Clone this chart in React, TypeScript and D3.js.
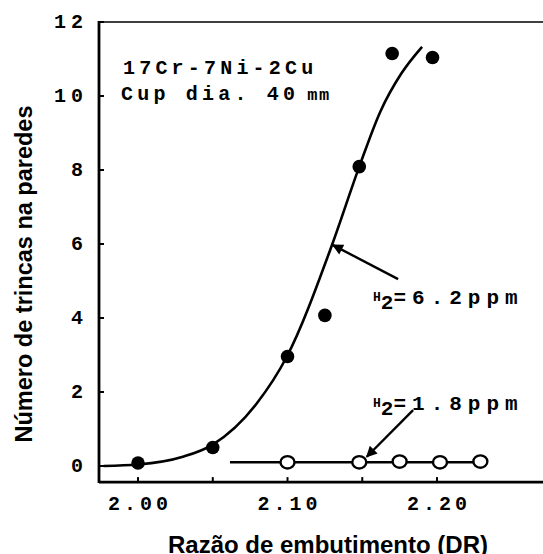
import React from 'react';
import * as d3 from 'd3';

const W = 543;
const H = 554;

// fitted curve for H2 = 6.2 ppm
const fitX = [1.977, 2.0, 2.03, 2.05, 2.079, 2.0996, 2.13, 2.148, 2.162, 2.176, 2.19];
const fitY = [0, 0.04, 0.25, 0.58, 1.67, 2.96, 6.0, 8.09, 9.57, 10.6, 11.33];

// measured points H2 = 6.2 ppm (filled)
const h62X = [2.0, 2.05, 2.1, 2.125, 2.148, 2.17, 2.197];
const h62Y = [0.08, 0.5, 2.96, 4.07, 8.09, 11.15, 11.04];

// measured points H2 = 1.8 ppm (open)
const h18X = [2.1, 2.148, 2.175, 2.202, 2.229];
const h18Y = [0.1, 0.1, 0.12, 0.1, 0.12];
const h18LineX = [2.0615, 2.229];

const yTicks = [0, 2, 4, 6, 8, 10, 12];
const xTickMarks = [2.0, 2.05, 2.1, 2.15, 2.2];
const xTickLabelValues = [2.0, 2.1, 2.2];
const xTickLabels = ['2.00', '2.10', '2.20'];

const yTitle = 'Número de trincas na paredes';
const xTitle = 'Razão de embutimento (DR)';
const note1 = '17Cr-7Ni-2Cu';
const note2a = 'Cup dia. 40';
const note2b = 'mm';
const label62 = '=6.2ppm';
const label18 = '=1.8ppm';

const MONO = "'Liberation Mono', 'DejaVu Sans Mono', monospace";
const SANS = "'Liberation Sans', Arial, sans-serif";

export default function App() {
  const x = d3.scaleLinear().domain([1.9739, 2.2709]).range([99, 543]);
  const y = d3.scaleLinear().domain([0, 12]).range([466, 22]);
  const yAxisBottom = y(-0.435);

  const fitPts: [number, number][] = fitX.map((v, i) => [v, fitY[i]]);
  const line = d3
    .line<[number, number]>()
    .x((d) => x(d[0]))
    .y((d) => y(d[1]))
    .curve(d3.curveMonotoneX);

  const arrow62 = { x1: x(2.174), y1: y(5.05), x2: x(2.1304), y2: y(5.97) };
  const arrow18 = { x1: x(2.184), y1: y(1.51), x2: x(2.153), y2: y(0.25) };

  const monoStyle = { fontFamily: MONO, fontWeight: 'bold' as const };

  return (
    <svg
      width={W}
      height={H}
      style={{ position: 'absolute', left: 0, top: 0, background: '#fff' }}
    >
      <defs>
        <marker
          id="ah"
          viewBox="0 0 10 10"
          refX="9"
          refY="5"
          markerUnits="userSpaceOnUse"
          markerWidth="17"
          markerHeight="11"
          orient="auto"
        >
          <path d="M0,0 L10,5 L0,10 z" fill="#000" />
        </marker>
      </defs>

      {/* frame */}
      <line x1={x.range()[0]} x2={W} y1={y(12)} y2={y(12)} stroke="#000" strokeWidth={1.6} />
      <line x1={x.range()[0]} x2={x.range()[0]} y1={y(12) - 1} y2={yAxisBottom + 1} stroke="#000" strokeWidth={2.8} />
      <line x1={x.range()[0]} x2={W} y1={yAxisBottom} y2={yAxisBottom} stroke="#000" strokeWidth={2.6} />

      {/* y ticks */}
      {yTicks.map((t) => (
        <g key={'yt' + t}>
          <line x1={x.range()[0]} x2={x.range()[0] + 5} y1={y(t)} y2={y(t)} stroke="#000" strokeWidth={2} />
          <text
            x={88}
            y={y(t)}
            textAnchor="end"
            dominantBaseline="central"
            fontSize={20}
            letterSpacing={5}
            style={monoStyle}
          >
            {t}
          </text>
        </g>
      ))}

      {/* x ticks */}
      {xTickMarks.map((t) => (
        <line key={'xt' + t} x1={x(t)} x2={x(t)} y1={yAxisBottom} y2={yAxisBottom - 5} stroke="#000" strokeWidth={2} />
      ))}
      {xTickLabelValues.map((t, i) => (
        <text
          key={'xl' + t}
          x={x(t) + 2}
          y={510}
          textAnchor="middle"
          fontSize={20}
          letterSpacing={4}
          style={monoStyle}
        >
          {xTickLabels[i]}
        </text>
      ))}

      {/* fitted curve */}
      <path d={line(fitPts) || ''} fill="none" stroke="#000" strokeWidth={2.6} />

      {/* H2=1.8 line */}
      <line x1={x(h18LineX[0])} x2={x(h18LineX[1])} y1={y(0.1)} y2={y(0.1)} stroke="#000" strokeWidth={2.6} />

      {/* filled points */}
      {h62X.map((v, i) => (
        <circle key={'f' + i} cx={x(v)} cy={y(h62Y[i])} r={6.8} fill="#000" />
      ))}

      {/* open points */}
      {h18X.map((v, i) => (
        <ellipse key={'o' + i} cx={x(v)} cy={y(h18Y[i])} rx={7} ry={6.2} fill="#fff" stroke="#000" strokeWidth={2.4} />
      ))}

      {/* arrows */}
      <line {...arrow62} stroke="#000" strokeWidth={2.4} markerEnd="url(#ah)" />
      <line {...arrow18} stroke="#000" strokeWidth={2.4} markerEnd="url(#ah)" />

      {/* annotations */}
      <text x={123} y={74} fontSize={20} letterSpacing={4.2} style={monoStyle}>
        {note1}
      </text>
      <text x={121} y={100} fontSize={20} letterSpacing={4.2} style={monoStyle}>
        {note2a}
        <tspan fontSize={17} letterSpacing={1.5} dx={8}>
          {note2b}
        </tspan>
      </text>

      <text x={373} y={304} style={monoStyle}>
        <tspan fontSize={13} dy={-3}>H</tspan>
        <tspan fontSize={21} dy={8}>2</tspan>
        <tspan fontSize={21} dy={-5} letterSpacing={6}>{label62}</tspan>
      </text>
      <text x={373} y={410} style={monoStyle}>
        <tspan fontSize={13} dy={-3}>H</tspan>
        <tspan fontSize={21} dy={8}>2</tspan>
        <tspan fontSize={21} dy={-5} letterSpacing={6}>{label18}</tspan>
      </text>

      {/* axis titles */}
      <text
        transform={`translate(32, 274) rotate(-90)`}
        textAnchor="middle"
        fontSize={23.5}
        fontWeight="bold"
        fontFamily={SANS}
      >
        {yTitle}
      </text>
      <text x={328} y={553} textAnchor="middle" fontSize={24} fontWeight="bold" fontFamily={SANS}>
        {xTitle}
      </text>
    </svg>
  );
}
